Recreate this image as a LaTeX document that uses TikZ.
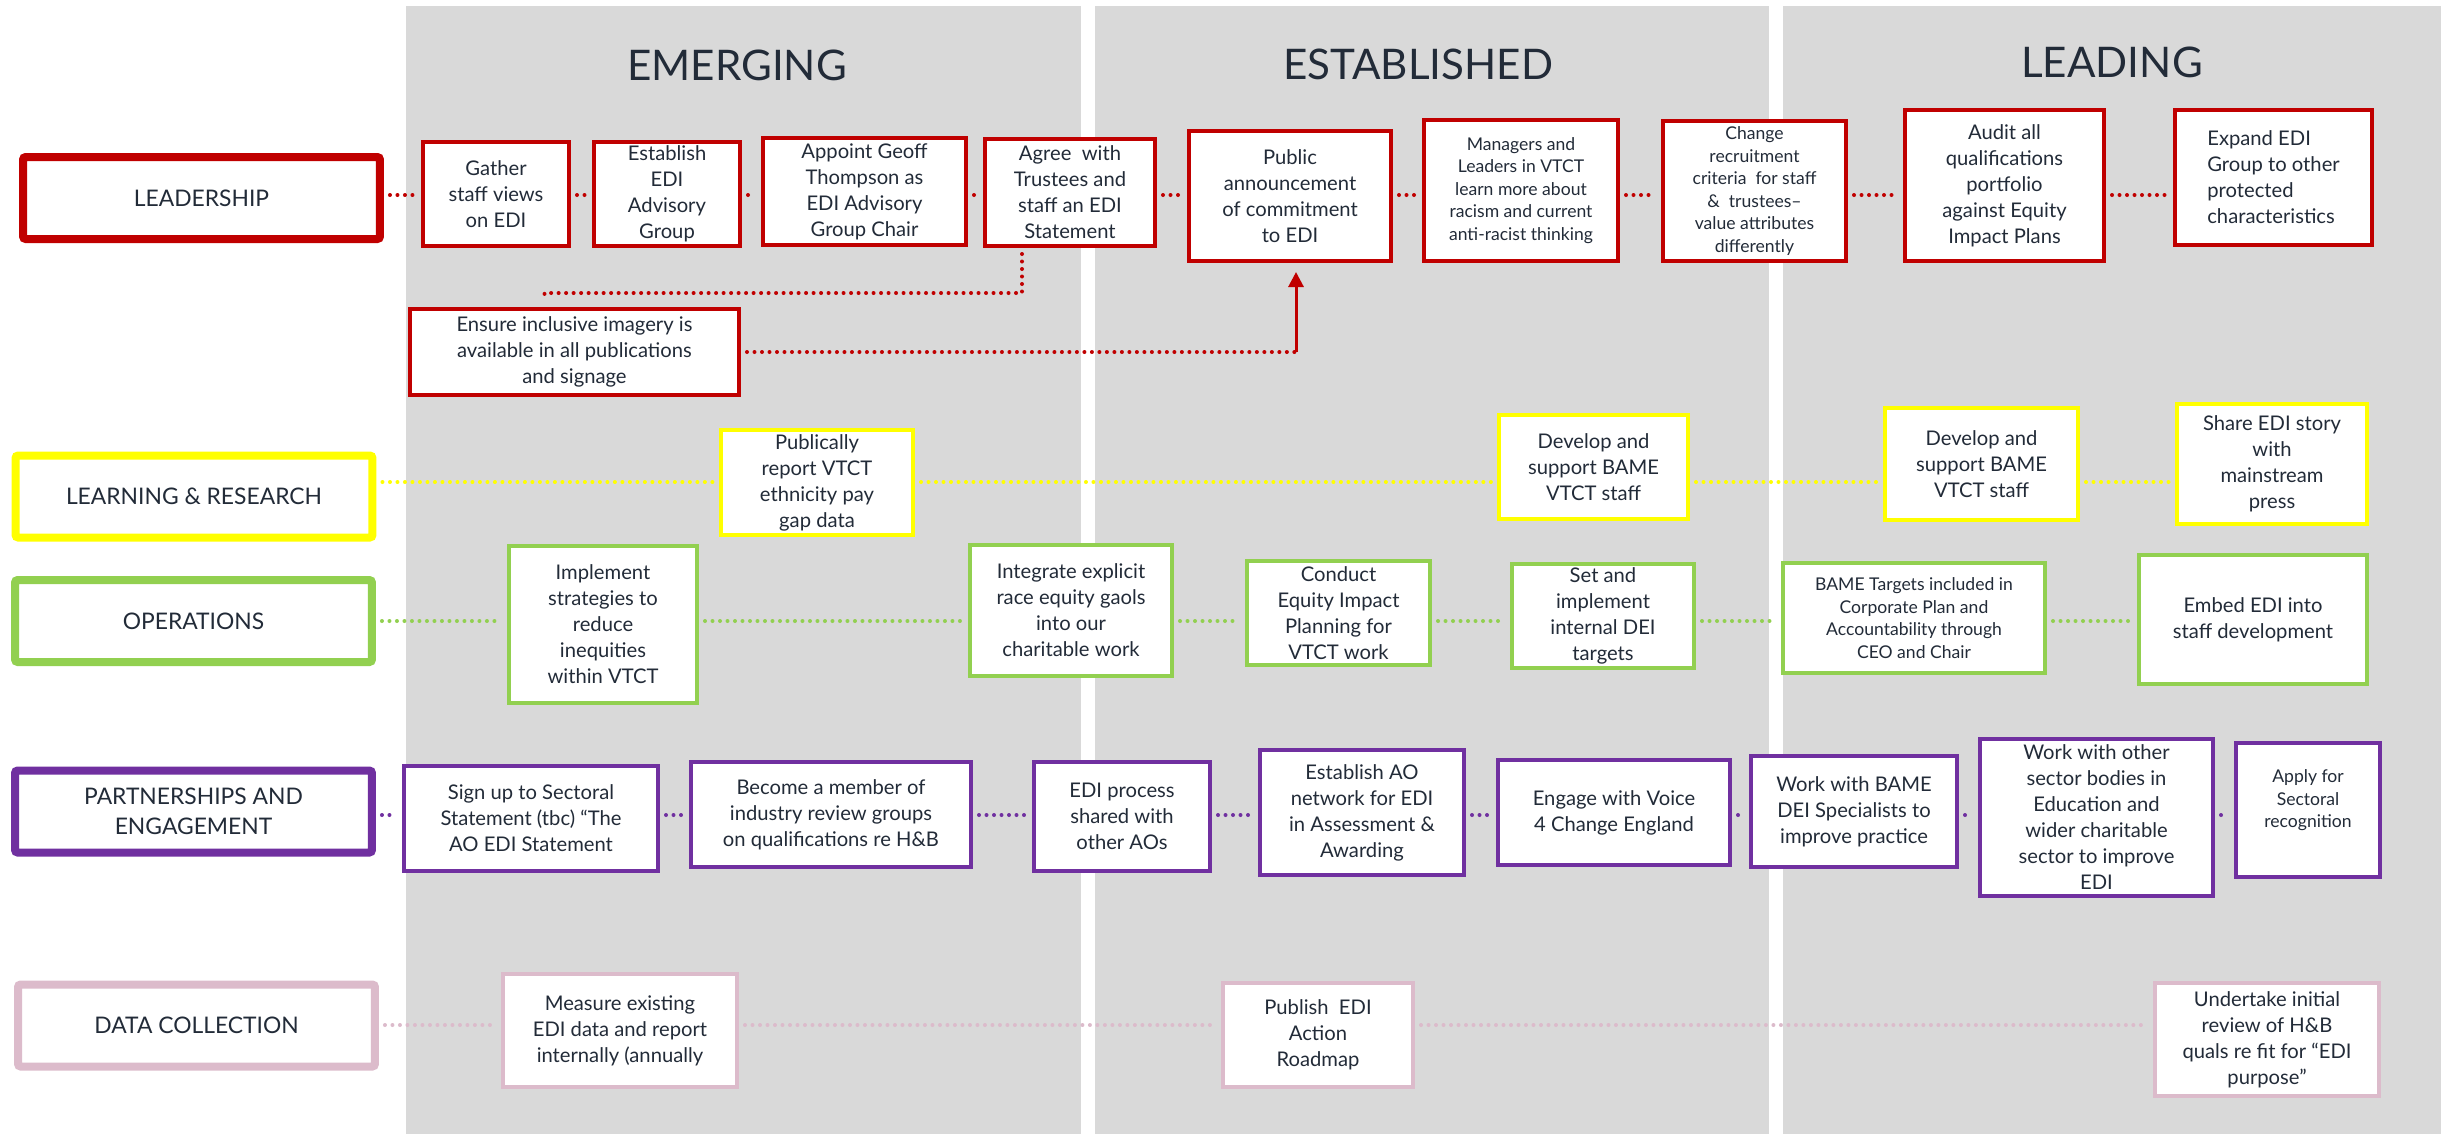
\documentclass[tikz,border=0pt]{standalone}
\usepackage{fontspec}
\setmainfont{Lato}
\usepackage{tikz}
\usetikzlibrary{arrows.meta, calc, positioning}
\definecolor{leadred}{HTML}{C00000}
\definecolor{learnyellow}{HTML}{FFFF00}
\definecolor{opsgreen}{HTML}{92D050}
\definecolor{partpurple}{HTML}{7030A0}
\definecolor{datapink}{HTML}{DCBBCB}
\definecolor{colgray}{HTML}{D9D9D9}
\definecolor{ink}{HTML}{222B38}
\tikzset{>={Triangle[width=0.3cm,length=0.3cm]}}
\tikzset{sz/.style 2 args={minimum width={(#1-4)*0.02cm}, minimum height={(#2-4)*0.02cm}},
	item/.style={draw=#1, line width=0.08cm, fill=white, text=ink, align=center, inner sep=2pt, font=\fontsize{11.5}{14.8}\selectfont},
	small/.style={font=\fontsize{10}{12.8}\selectfont},
	lane/.style={draw=#1, line width=0.16cm, fill=white, text=ink, align=center, rounded corners=1.5pt, minimum width=7.14cm, minimum height=1.64cm, font=\fontsize{13}{17}\selectfont},
	link/.style={draw=#1, line width=0.08cm, line cap=round, dash pattern=on 0pt off 0.15cm, shorten <=0.12cm, shorten >=0.12cm},
	phase/.style={text=ink, font=\fontsize{24}{28}\selectfont}}

\begin{document}
\begin{tikzpicture}[x=0.02cm, y=-0.02cm]

	\useasboundingbox (0,0) rectangle (2441,1134);

	\fill [colgray] (406,6) rectangle (1081,1134);
	\fill [colgray] (1095,6) rectangle (1769,1134);
	\fill [colgray] (1783,6) rectangle (2441,1134);

	\node [phase] (emerging) at (737,65) {EMERGING};
	\node [phase] (established) at (1418,64) {ESTABLISHED};
	\node [phase] (leading) at (2112,62) {LEADING};

	\coordinate (leadrow) at (0,195);
	\coordinate (learnrow) at (0,482);
	\coordinate (opsrow) at (0,621);
	\coordinate (partrow) at (0,815);
	\coordinate (datarow) at (0,1025);

	\node [lane=leadred] (lead) at (201.5,198) {LEADERSHIP};
	\node [lane=learnyellow] (learn) at (194,496.5) {LEARNING \& RESEARCH};
	\node [lane=opsgreen] (ops) at (193.5,621) {OPERATIONS};
	\node [lane=partpurple] (part) at (193.5,811.5) {PARTNERSHIPS AND\\ENGAGEMENT};
	\node [lane=datapink] (data) at (196.5,1025.5) {DATA COLLECTION};

	%leadership
	\node [item=leadred, sz={150}{108}] (L1) at (496,194) {Gather\\staff views\\on EDI};
	\node [item=leadred, sz={150}{108}] (L2) at (667,194) {Establish\\EDI\\Advisory\\Group};
	\node [item=leadred, sz={207}{111}] (L3) at (864.5,191.5) {Appoint Geoff\\Thompson as\\EDI Advisory\\Group Chair};
	\node [item=leadred, sz={174}{111}] (L4) at (1070,192.5) {Agree\ \ with\\Trustees and\\staff an EDI\\Statement};
	\node [item=leadred, sz={206}{134}] (L5) at (1290,196) {Public\\announcement\\of commitment\\to EDI};
	\node [item=leadred, small, sz={198}{145}] (L6) at (1521,190.5) {Managers and\\Leaders in VTCT\\learn more about\\racism and current\\anti-racist thinking};
	\node [item=leadred, small, sz={187}{144}] (L7) at (1754.5,191) {Change\\recruitment\\criteria\ \ for staff\\\&\ \ trustees--\\value attributes\\differently};
	\node [item=leadred, sz={203}{155}] (L8) at (2004.5,185.5) {Audit all\\qualifications\\portfolio\\against Equity\\Impact Plans};
	\node [item=leadred, align=left, sz={201}{139}] (L9) at (2273.5,177.5) {Expand EDI\\Group to other\\protected\\characteristics};
	\node [item=leadred, sz={333}{90}] (ens) at (574.5,352) {Ensure inclusive imagery is\\available in all publications\\and signage};

	%learning and research
	\node [item=learnyellow, sz={196}{109}] (R1) at (817,482.5) {Publically\\report VTCT\\ethnicity pay\\gap data};
	\node [item=learnyellow, sz={193}{108}] (R2) at (1593.5,467) {Develop and\\support BAME\\VTCT staff};
	\node [item=learnyellow, sz={197}{116}] (R3) at (1981.5,464) {Develop and\\support BAME\\VTCT staff};
	\node [item=learnyellow, sz={194}{124}] (R4) at (2272,464) {Share EDI story\\with\\mainstream\\press};

	%operations
	\node [item=opsgreen, sz={192}{161}] (O1) at (603,624.5) {Implement\\strategies to\\reduce\\inequities\\within VTCT};
	\node [item=opsgreen, sz={206}{135}] (O2) at (1071,610.5) {Integrate explicit\\race equity gaols\\into our\\charitable work};
	\node [item=opsgreen, sz={187}{108}] (O3) at (1338.5,613) {Conduct\\Equity Impact\\Planning for\\VTCT work};
	\node [item=opsgreen, sz={186}{108}] (O4) at (1603,616) {Set and\\implement\\internal DEI\\targets};
	\node [item=opsgreen, small, sz={266}{114}] (O5) at (1914,618) {BAME Targets included in\\Corporate Plan and\\Accountability through\\CEO and Chair};
	\node [item=opsgreen, sz={232}{133}] (O6) at (2253,619.5) {Embed EDI into\\staff development};

	%partnerships
	\node [item=partpurple, sz={258}{109}] (P1) at (531,818.5) {Sign up to Sectoral\\Statement (tbc) “The\\AO EDI Statement};
	\node [item=partpurple, sz={284}{109}] (P2) at (831,814.5) {Become a member of\\industry review groups\\on qualifications re H\&B};
	\node [item=partpurple, sz={180}{113}] (P3) at (1122,816.5) {EDI process\\shared with\\other AOs};
	\node [item=partpurple, sz={208}{129}] (P4) at (1362,812.5) {Establish AO\\network for EDI\\in Assessment \&\\Awarding};
	\node [item=partpurple, sz={236}{109}] (P5) at (1614,812.5) {Engage with Voice\\4 Change England};
	\node [item=partpurple, sz={210}{115}] (P6) at (1854,811.5) {Work with BAME\\DEI Specialists to\\improve practice};
	\node [item=partpurple, sz={237}{161}] (P7) at (2096.5,817.5) {Work with other\\sector bodies in\\Education and\\wider charitable\\sector to improve\\EDI};
	\node [item=partpurple, small, sz={148}{138}] (P8) at (2308,810) {Apply for\\Sectoral\\recognition\\~};

	%data collection
	\node [item=datapink, sz={238}{117}] (D1) at (620,1030.5) {Measure existing\\EDI data and report\\internally (annually};
	\node [item=datapink, sz={194}{108}] (D2) at (1318,1035) {Publish\ \ EDI\\Action\\Roadmap};
	\node [item=datapink, sz={228}{117}] (D3) at (2267,1039.5) {Undertake initial\\review of H\&B\\quals re fit for “EDI\\purpose”};

	\foreach \a/\b in {lead/L1, L1/L2, L2/L3, L3/L4, L4/L5, L5/L6, L6/L7, L7/L8, L8/L9}
		\draw [link=leadred] (\a.east |- leadrow) -- (\b.west |- leadrow);
	\foreach \a/\b in {learn/R1, R1/R2, R2/R3, R3/R4}
		\draw [link=learnyellow] (\a.east |- learnrow) -- (\b.west |- learnrow);
	\foreach \a/\b in {ops/O1, O1/O2, O2/O3, O3/O4, O4/O5, O5/O6}
		\draw [link=opsgreen] (\a.east |- opsrow) -- (\b.west |- opsrow);
	\foreach \a/\b in {part/P1, P1/P2, P2/P3, P3/P4, P4/P5, P5/P6, P6/P7, P7/P8}
		\draw [link=partpurple] (\a.east |- partrow) -- (\b.west |- partrow);
	\foreach \a/\b in {data/D1, D1/D2, D2/D3}
		\draw [link=datapink] (\a.east |- datarow) -- (\b.west |- datarow);

	%imagery box
	\draw [link=leadred] ($(L4.south)+(-48,0)$) -- ++(0,45) -| ($(ens.north)+(-30,0)$);
	\coordinate (bend) at ($(ens.east -| L5.south)+(6,0)$);
	\draw [link=leadred, shorten >=0pt] (ens.east) -- (bend);
	\draw [->, leadred, line width=0.06cm] (bend) -- ($(L5.south)+(6,9)$);

\end{tikzpicture}
\end{document}
